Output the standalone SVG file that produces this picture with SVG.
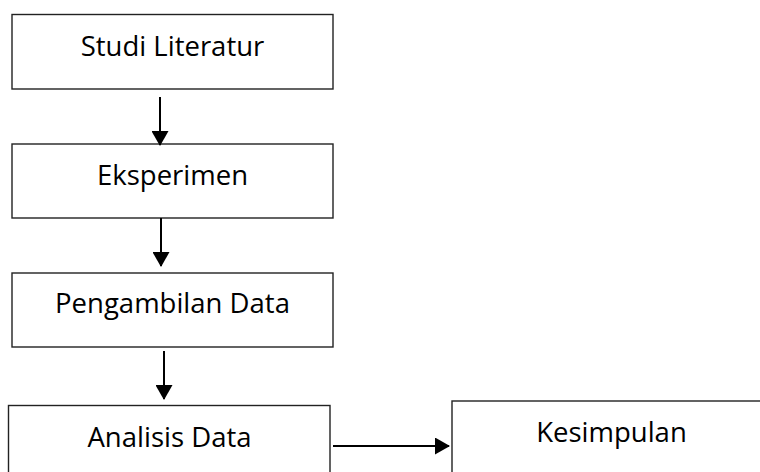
<svg xmlns="http://www.w3.org/2000/svg" width="760" height="472" viewBox="0 0 760 472">
<style>
.box{fill:#fff;stroke:#222;stroke-width:1.4}
.lbl{font-family:"Open Sans","Liberation Sans",sans-serif;font-size:27.5px;fill:#000;text-anchor:middle}
.conn{stroke:#000;stroke-width:2;fill:none}
</style>
<defs>
<marker id="ah" markerUnits="userSpaceOnUse" markerWidth="15" markerHeight="17" refX="14" refY="8.5" orient="auto" viewBox="0 0 15 17">
<path d="M0,0 L15,8.5 L0,17 Z" fill="#000"/>
</marker>
</defs>
<rect width="760" height="472" fill="#fff"/>
<g id="n1"><rect class="box" x="12" y="14.5" width="321" height="74.5"/><text class="lbl" x="172.5" y="56">Studi Literatur</text></g>
<g id="n2"><rect class="box" x="12" y="144" width="321" height="74"/><text class="lbl" x="172.5" y="185">Eksperimen</text></g>
<g id="n3"><rect class="box" x="12" y="273" width="321" height="74"/><text class="lbl" x="172.5" y="313">Pengambilan Data</text></g>
<g id="n4"><rect class="box" x="8.5" y="405.5" width="321.5" height="80"/><text class="lbl" x="169.5" y="447">Analisis Data</text></g>
<g id="n5"><rect class="box" x="452" y="401" width="330" height="90"/><text class="lbl" x="611.5" y="442">Kesimpulan</text></g>
<g id="connectors">
<line class="conn" x1="160" y1="97" x2="160" y2="145" marker-end="url(#ah)"/>
<line class="conn" x1="161" y1="218" x2="161" y2="266" marker-end="url(#ah)"/>
<line class="conn" x1="164" y1="351" x2="164" y2="399" marker-end="url(#ah)"/>
<line class="conn" x1="333" y1="446" x2="449" y2="446" marker-end="url(#ah)"/>
</g>
</svg>
